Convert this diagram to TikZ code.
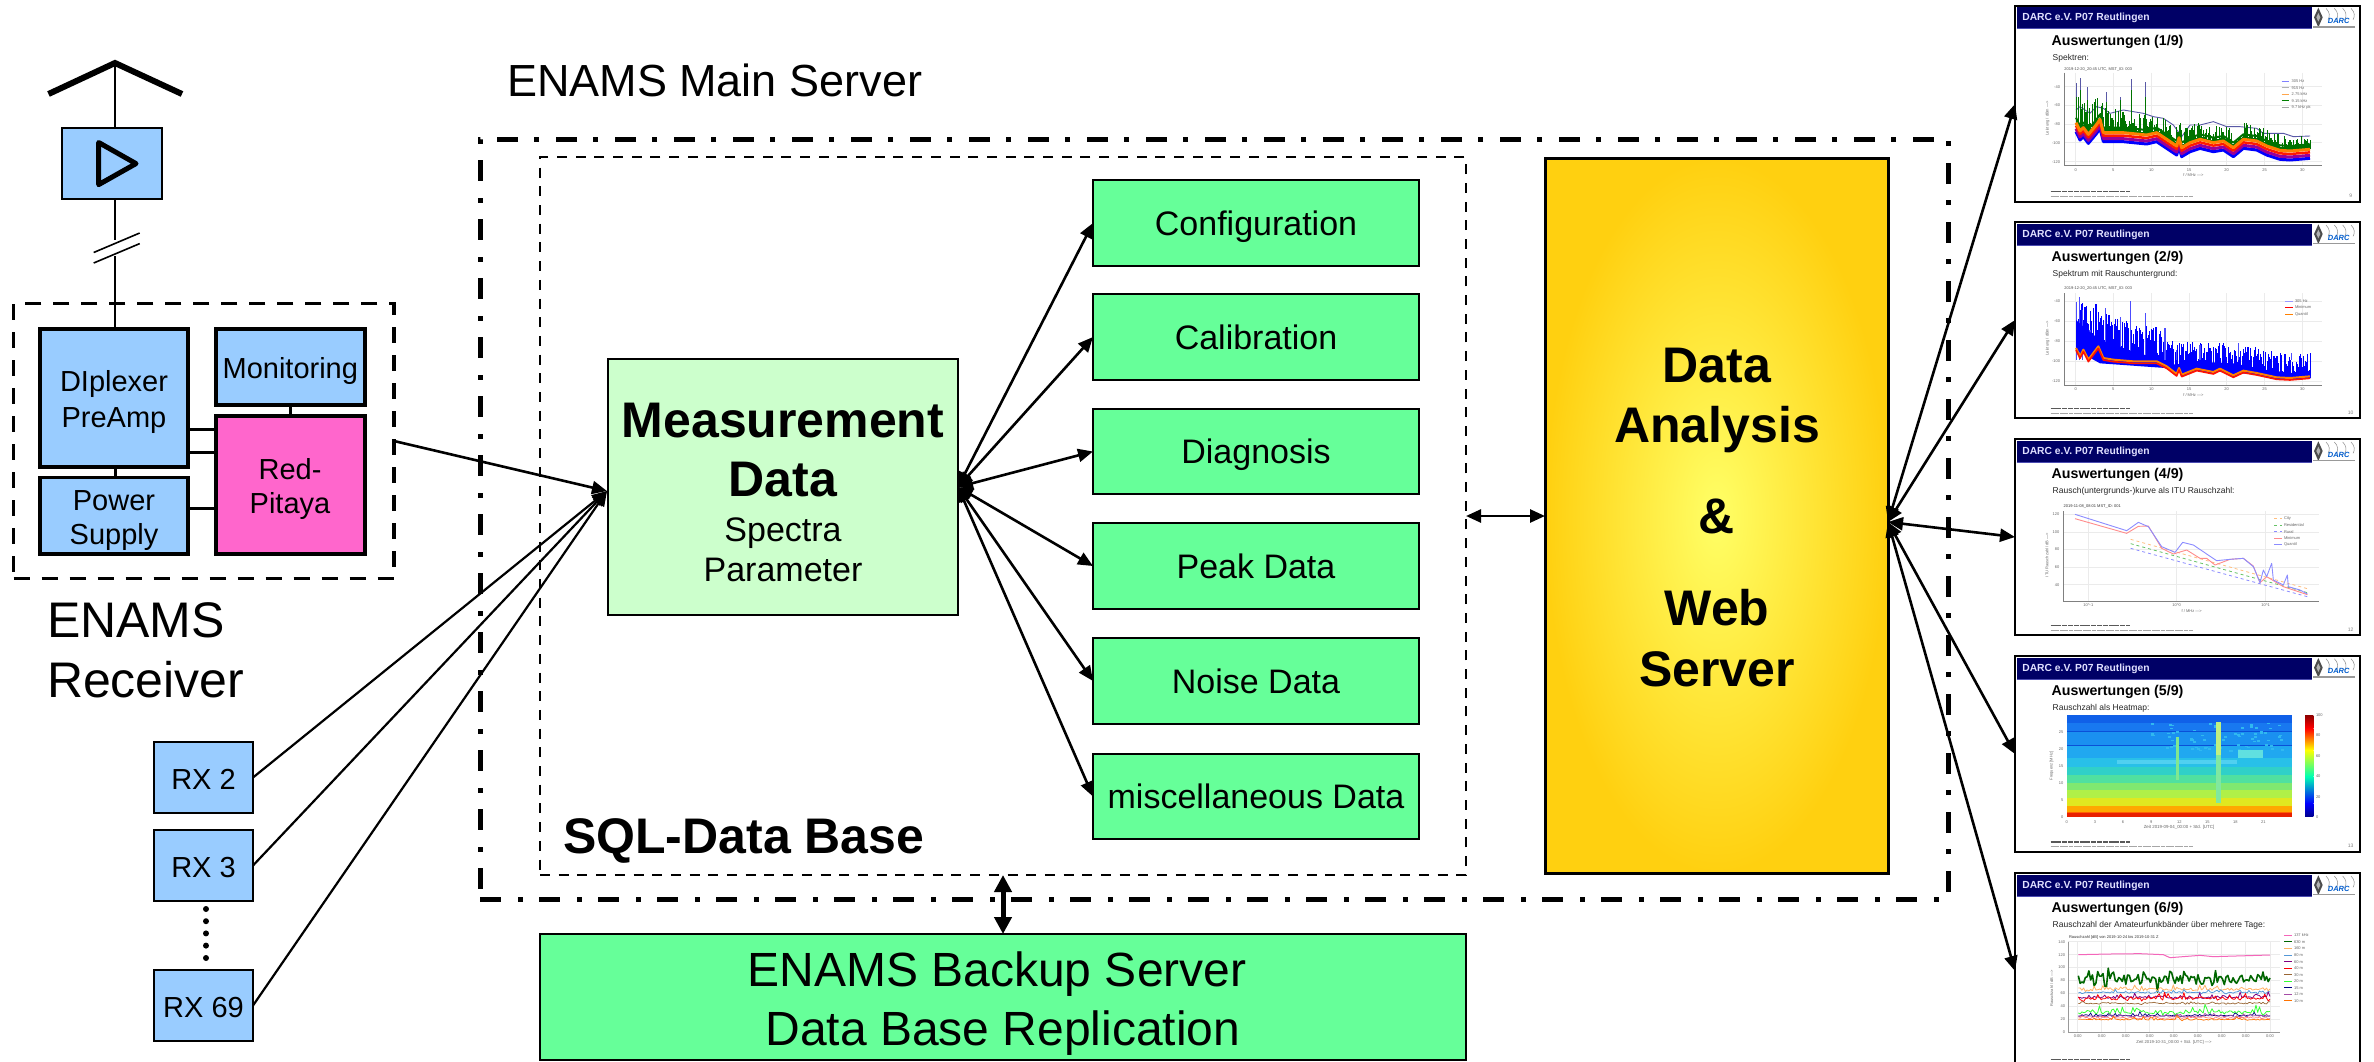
\documentclass[tikz,border=0pt]{standalone}
\usepackage{fontspec}
\setmainfont{Liberation Sans}
\usetikzlibrary{arrows.meta}
\definecolor{rxblue}{HTML}{99CCFF}
\definecolor{pitaya}{HTML}{FF66CC}
\definecolor{paleg}{HTML}{CCFFCC}
\definecolor{midg}{HTML}{66FF99}
\definecolor{navy}{HTML}{000066}
\definecolor{tickc}{HTML}{666666}
\definecolor{gridc}{HTML}{EBEBEB}
\newcommand\fsz[2]{\fontsize{#1}{#2}\selectfont}
\newcommand\bx[7]{%
  \pgfmathsetmacro\cxx{(#2+#4)/2}\pgfmathsetmacro\cyy{(#3+#5)/2}%
  \pgfmathsetmacro\wdd{#4-#2}\pgfmathsetmacro\htt{#5-#3}%
  \node[boxbase,#6,minimum width=\wdd pt,minimum height=\htt pt] (#1) at (\cxx,\cyy) {#7};}
\tikzset{
  boxbase/.style={rectangle,inner sep=0pt,outer sep=0pt,align=center,draw=black},
  rxthick/.style={fill=rxblue,line width=3.8pt,font=\fsz{29}{36},text height=26pt,text depth=2pt},
  rxthin/.style={fill=rxblue,line width=2pt,font=\fsz{29}{36},text height=24pt,text depth=0pt},
  greenbox/.style={fill=midg,line width=2pt,font=\fsz{34}{40},text height=28pt,text depth=4pt},
  lbl/.style={inner sep=0pt,outer sep=0pt,anchor=base},
  lblw/.style={inner sep=0pt,outer sep=0pt,anchor=base west},
  inlbl/.style={lbl,font=\fsz{29}{36}},
  tk/.style={inner sep=0pt,outer sep=0pt,text=tickc,font=\fsz{4}{5}},
  tkw/.style={tk,anchor=west},
  link/.style={line width=3pt},
  fan/.style={line width=2.6pt,{Triangle[length=15pt,width=13pt]}-{Triangle[length=15pt,width=13pt]}},
  single/.style={line width=2.6pt,-{Triangle[length=15pt,width=13pt]}},
  slidebox/.style={rectangle,draw=black,fill=white,line width=2.5pt,inner sep=0pt,outer sep=0pt,minimum width=345pt,minimum height=196pt},
  zoomed/.style={x=0.33333pt,y=-0.33333pt}
}
% common slide furniture, in zoom units
\newcommand\slidefur[4]{%
  \fill[navy] (50,#1+5) rectangle (935,#1+68);
  \draw[color=blue!40!gray,line width=.6pt] (50,#1+69) -- (935,#1+69);
  \node[lblw,text=white!88!blue,font=\bfseries\fsz{10.3}{12}] at (67,#1+45) {DARC e.V. P07 Reutlingen};
  \fill[black!70] (955,#1+6) -- (968,#1+35) -- (955,#1+65) -- (942,#1+35) -- cycle;
  \fill[black!30] (955,#1+22) -- (961,#1+35) -- (955,#1+48) -- (949,#1+35) -- cycle;
  \foreach \sx in {0,25,50,75}{\draw[black!45,line width=.5pt] (978+\sx,#1+8) .. controls (990+\sx,#1+20) and (990+\sx,#1+32) .. (984+\sx,#1+42);}
  \node[lbl,text=blue!55!cyan!80!black,font=\bfseries\itshape\fsz{7.5}{8}] at (1016,#1+53) {DARC};
  \fill[black!40] (938,#1+61) rectangle (1065,#1+66);
  \node[lblw,font=\bfseries\fsz{14.2}{16}] at (155,#1+118) {#2};
  \node[lblw,text=black!85,font=\fsz{8.5}{10}] at (158,#1+163) {#3};
  \draw[black!65,line width=1.5pt,dash pattern=on 5pt off .8pt] (152,#1+558) -- (390,#1+558);
  \draw[black!35,line width=.9pt,dash pattern=on 4pt off .6pt] (152,#1+572) -- (578,#1+572);
  \node[lbl,text=black!50,font=\fsz{5}{6}] at (1052,#1+575) {#4};
}
% spiky trace following a polyline of X/Y pairs
\newcommand\spikes[7]{%
  \foreach \X/\Y [remember=\X as \pX (initially #2), remember=\Y as \pY (initially #3)] in #1 {%
    \pgfmathtruncatemacro\nn{max(1,int((\X-\pX)/2.5))}%
    \foreach \i in {1,...,\nn}{%
      \pgfmathsetmacro\xx{\pX+(\X-\pX)*\i/\nn}%
      \pgfmathsetmacro\yy{\pY+(\Y-\pY)*\i/\nn-#5}%
      \pgfmathsetmacro\ll{(#7+(#6-#7)*exp(-(\xx-228)/220))*pow(rnd,1.6)+6}%
      \draw[#4,line width=1.05pt] (\xx,\yy) -- (\xx,\yy-\ll);
    }%
  }%
}
\newcommand\noisy[4]{\draw[#1,line join=round] plot[domain=235:810,samples=110] (\x,{#2+#3*(rnd-.5)*(1+2*pow(rnd,6))-#4*pow(rnd,8)});}
\begin{document}
\begin{tikzpicture}[x=1pt,y=-1pt]
\pgfmathsetseed{4711}
\useasboundingbox (0,0) rectangle (2374,1061);
\fill[white] (0,0) rectangle (2374,1061);

%%%% antenna & receiver
\coordinate (anttop) at (115,63);
\coordinate (antl) at (48.5,94);
\coordinate (antr) at (182,94);
\coordinate (brk1) at (115,240);
\coordinate (brk2) at (115,256);
\draw[line width=6pt] (antl) -- (anttop) -- (antr);
\bx{lna}{62}{127.5}{161.5}{199}{fill=rxblue,line width=2pt}{}
\draw[line width=2.5pt] (anttop) -- (lna.north -| anttop);
\draw[line width=5pt,line join=round] (98.7,142.5) -- (136,163.6) -- (98.7,184.6) -- cycle;
\draw[line width=2.5pt] (lna.south -| anttop) -- (brk1);
\draw[line width=1.6pt] (93.7,252.5) -- (139.7,233);
\draw[line width=1.6pt] (93.7,263) -- (139.7,243.6);

\bx{rcv}{13.7}{303.6}{394}{578.6}{line width=3.5pt,dash pattern=on 16pt off 12pt}{}
\bx{dip}{40}{328.6}{188}{467}{rxthick}{}
\bx{mon}{215.6}{328.6}{365}{405}{rxthick}{Monitoring}
\bx{red}{215.6}{416}{365}{554}{rxthick,fill=pitaya}{}
\bx{psu}{40}{477.5}{188}{554}{rxthick}{}
\node[inlbl] (dip1) at (114,391) {DIplexer};
\node[inlbl] (dip2) at (114,427.5) {PreAmp};
\node[inlbl] (red1) at (290,479) {Red-};
\node[inlbl] (red2) at (290,513) {Pitaya};
\node[inlbl] (psu1) at (114,510) {Power};
\node[inlbl] (psu2) at (114,544) {Supply};
\draw[line width=2.5pt] (brk2) -- (dip.north -| brk2);
\draw[link] (dip.south -| brk2) -- (psu.north -| brk2);
\draw[link] (mon.south) -- (red.north);
\coordinate (l1) at (188,429); \coordinate (l2) at (188,452.5);
\draw[link] (l1) -- (l1 -| red.west);
\draw[link] (l2) -- (l2 -| red.west);
\coordinate (l3) at (188,508.6);
\draw[link] (l3) -- (l3 -| red.west);
\node[lblw,font=\fsz{50}{60}] (rcvlbl1) at (47,637) {ENAMS};
\node[lblw,font=\fsz{50}{60}] (rcvlbl2) at (47,697) {Receiver};

%%%% RX boxes
\bx{rx2}{154}{742}{253}{813}{rxthin}{RX 2}
\bx{rx3}{154}{830}{253}{901}{rxthin}{RX 3}
\bx{rx69}{154}{970}{253}{1041}{rxthin}{RX 69}
\foreach \dy in {909,921.2,933.4,945.6,958}{\fill (206,\dy) circle (3pt);}

%%%% main server
\node[lblw,font=\fsz{45}{54}] (mainlbl) at (507,96) {ENAMS Main Server};
\bx{main}{480}{139}{1948}{899}{line width=5pt,dash pattern=on 21pt off 17pt on 5pt off 16pt}{}
\bx{sql}{540}{157}{1466}{875}{line width=2.6pt,dash pattern=on 10pt off 8.7pt}{}
\node[lblw,font=\bfseries\fsz{50}{60}] (sqllbl) at (563,853) {SQL-Data Base};

\bx{meas}{608}{359}{958}{615}{fill=paleg,line width=2.5pt}{}
\node[lbl,font=\bfseries\fsz{50}{60}] (m1) at (783,437) {Measurement};
\node[lbl,font=\bfseries\fsz{50}{60}] (m2) at (783,496) {Data};
\node[lbl,font=\fsz{34}{40}] (m3) at (783,541) {Spectra};
\node[lbl,font=\fsz{34}{40}] (m4) at (783,581) {Parameter};

\bx{cfg}{1093}{180}{1419}{266}{greenbox}{Configuration}
\bx{cal}{1093}{294}{1419}{380}{greenbox}{Calibration}
\bx{dia}{1093}{409}{1419}{494}{greenbox}{Diagnosis}
\bx{peak}{1093}{523}{1419}{609}{greenbox}{Peak Data}
\bx{noi}{1093}{638}{1419}{724}{greenbox}{Noise Data}
\bx{mis}{1093}{754}{1419}{839}{greenbox}{miscellaneous Data}

\bx{web}{1545}{158}{1888}{873}{inner color={rgb,255:red,255;green,255;blue,102},outer color={rgb,255:red,255;green,208;blue,16},line width=3pt}{}
\node[lbl,font=\bfseries\fsz{50}{60}] (w1) at (1717,382) {Data};
\node[lbl,font=\bfseries\fsz{50}{60}] (w2) at (1717,442) {Analysis};
\node[lbl,font=\bfseries\fsz{50}{60}] (w3) at (1717,533) {\&};
\node[lbl,font=\bfseries\fsz{50}{60}] (w4) at (1717,625) {Web};
\node[lbl,font=\bfseries\fsz{50}{60}] (w5) at (1717,686) {Server};

\bx{bak}{540}{934}{1466}{1060}{fill=midg,line width=2.5pt}{}
\node[lbl,font=\fsz{48}{58}] (b1) at (997,986) {ENAMS Backup Server};
\node[lbl,font=\fsz{48}{58}] (b2) at (1003,1045) {Data Base Replication};

%%%% slides
\node[slidebox] (s1) at (2187.5,104) {};
\node[slidebox] (s2) at (2187.5,320) {};
\node[slidebox] (s3) at (2187.5,537) {};
\node[slidebox] (s4) at (2187.5,754) {};
\node[slidebox] (s5) at (2187.5,971) {};

% ---- slide 1 & 2 (zoom frame origin 2000,0)
\begin{scope}[shift={(2000pt,0pt)},zoomed]
\slidefur{17}{Auswertungen (1/9)}{Spektren:}{9}
\def\specA{228/395,240/420,250/410,265/430,290/400,300/385,310/425,340/425,370/425,400/428,440/432,470/425,500/445,530/465,537/440,545/470,570/455,600/445,640/455,670/450,700/470,730/445,770/450,800/465,840/478,870/480,930/475}
\def\specAp{(228,395) -- (240,420) -- (250,410) -- (265,430) -- (290,400) -- (300,385) -- (310,425) -- (340,425) -- (370,425) -- (400,428) -- (440,432) -- (470,425) -- (500,445) -- (530,465) -- (537,440) -- (545,470) -- (570,455) -- (600,445) -- (640,455) -- (670,450) -- (700,470) -- (730,445) -- (770,450) -- (800,465) -- (840,478) -- (870,480) -- (930,475)}
\foreach \t in {260,316,372,428,485}{\draw[gridc,line width=.4pt] (192,\t) -- (965,\t);}
\foreach \t in {227,340,454,567,680,794,907}{\draw[gridc,line width=.4pt] (\t,218) -- (\t,497);}
\draw[black!50,line width=.5pt] (192,218) -- (192,497) -- (965,497);
\foreach \t/\l in {260/-40,316/-60,372/-80,428/-100,485/-120}{\node[tk,anchor=east] at (180,\t) {\l};}
\foreach \t/\l in {227/0,340/5,454/10,567/15,680/20,794/25,907/30}{\node[tk] at (\t,509) {\l};}
\node[tk] at (580,526) {f / MHz --->};
\node[tk,rotate=90] at (143,355) {Leistung / dBm --->};
\node[tk,anchor=west,text=black!70] at (193,208) {2019-12-20\_20:45 UTC, MST\_ID: 003};
\draw[color=gray!70!blue,line width=.9pt] (228,330)--(240,320)--(270,340)--(290,320)--(310,325)--(330,340)--(370,330)--(400,335)--(430,340)--(460,350)--(490,355)--(520,375)--(545,410)--(570,375)--(600,375)--(640,365)--(680,380)--(720,380)--(770,385)--(790,400)--(850,400)--(880,410)--(930,408);
\foreach \a/\b in {230/250,240/235,262/262,318/275,362/290,393/237,437/245}{\draw[color=gray!70!blue,line width=.8pt] (\a,350) -- (\a,\b);}
\spikes{\specA}{228}{395}{green!45!black}{28}{90}{38}
\foreach \a/\b in {230/290,240/270,262/300,318/305,362/300,393/270,437/290,540/370}{\draw[green!45!black,line width=1pt] (\a,400) -- (\a,\b);}
\draw[green!45!black,line width=2pt,yshift=14pt,line join=round] \specAp;
\draw[color=blue,line width=3pt,line join=round] \specAp;
\draw[color=violet!80!magenta,line width=3pt,yshift=3pt,line join=round] \specAp;
\draw[color=red!80!orange,line width=2.5pt,yshift=6pt,line join=round] \specAp;
\draw[color=orange,line width=3pt,yshift=9pt,line join=round] \specAp;
\foreach \y/\c/\l in {244/blue!50/305 Hz,263/gray!60/915 Hz,283/orange!70/2.75 kHz,302/green!50!black/9.15 kHz,322/gray!70/9.7 kHz pk}{\draw[color=\c,line width=.7pt] (845,\y) -- (866,\y); \node[tkw] at (875,\y) {\l};}

\slidefur{667}{Auswertungen (2/9)}{Spektrum mit Rauschuntergrund:}{10}
\def\specB{228/1050,240/1075,250/1055,265/1085,295/1045,310/1080,340/1085,400/1090,470/1090,500/1105,530/1128,537/1110,545/1130,590/1112,640/1122,660/1112,700/1132,730/1118,770/1125,830/1138,870/1140,930/1135}
\def\specBp{(228,1050) -- (240,1075) -- (250,1055) -- (265,1085) -- (295,1045) -- (310,1080) -- (340,1085) -- (400,1090) -- (470,1090) -- (500,1105) -- (530,1128) -- (537,1110) -- (545,1130) -- (590,1112) -- (640,1122) -- (660,1112) -- (700,1132) -- (730,1118) -- (770,1125) -- (830,1138) -- (870,1140) -- (930,1135)}
\foreach \t in {903,963,1023,1083,1143}{\draw[gridc,line width=.4pt] (192,\t) -- (965,\t);}
\foreach \t in {227,340,454,567,680,794,907}{\draw[gridc,line width=.4pt] (\t,880) -- (\t,1156);}
\draw[black!50,line width=.5pt] (192,880) -- (192,1156) -- (965,1156);
\foreach \t/\l in {903/-40,963/-60,1023/-80,1083/-100,1143/-120}{\node[tk,anchor=east] at (180,\t) {\l};}
\foreach \t/\l in {227/0,340/5,454/10,567/15,680/20,794/25,907/30}{\node[tk] at (\t,1168) {\l};}
\node[tk] at (580,1184) {f / MHz --->};
\node[tk,rotate=90] at (143,1015) {Leistung / dBm --->};
\node[tk,anchor=west,text=black!70] at (193,866) {2019-12-20\_20:45 UTC, MST\_ID: 003};
\spikes{\specB}{228}{1050}{blue}{0}{170}{70}
\spikes{\specB}{228}{1050}{blue}{0}{170}{70}
\spikes{\specB}{228}{1050}{blue}{0}{170}{70}
\foreach \a/\b in {230/905,238/890,248/930,270/990,316/925,362/950,392/903,437/940,495/985,530/1050,600/1035,715/1030,875/1060}{\draw[color=blue!70,line width=1.2pt] (\a,1080) -- (\a,\b);}
\fill[blue] (228,1050) -- (228,960) -- (250,980) -- (300,1020) -- (400,1055) -- (470,1075) -- (500,1095) -- (560,1090) -- (600,1085) -- (700,1090) -- (800,1110) -- (930,1125) -- (930,1135) -- (300,1090) -- cycle;
\draw[color=orange,line width=2pt,yshift=2pt,line join=round] \specBp;
\draw[color=red!85!orange,line width=1.6pt,line join=round] \specBp;
\foreach \y/\c/\l in {903/blue!40/305 Hz,922/red/Minimum,942/orange/Quantil}{\draw[color=\c,line width=.8pt] (855,\y) -- (878,\y); \node[tkw] at (885,\y) {\l};}
\end{scope}

% ---- slide 3 & 4 (zoom frame origin 2000,430)
\begin{scope}[shift={(2000pt,-430pt)},zoomed]
\slidefur{28}{Auswertungen (4/9)}{Rausch(untergrunds-)kurve als ITU Rauschzahl:}{12}
\foreach \t in {253,306,358,411,464}{\draw[gridc,line width=.4pt] (190,\t) -- (958,\t);}
\foreach \t in {265,530,797}{\draw[gridc,line width=.4pt] (\t,243) -- (\t,513);}
\draw[black!50,line width=.5pt] (190,243) -- (190,513) -- (958,513);
\foreach \t/\l in {253/120,306/100,358/80,411/60,464/40}{\node[tk,anchor=east] at (178,\t) {\l};}
\node[tk] at (265,526) {10\^{}-1};\node[tk] at (530,526) {10\^{}0};\node[tk] at (797,526) {10\^{}1};
\node[tk] at (575,542) {f / MHz --->};
\node[tk,rotate=90] at (141,375) {ITU Rauschzahl / dB --->};
\node[tk,anchor=west,text=black!80] at (191,229) {2019-11-08\_08:01 MST\_ID: 001};
\draw[orange!50,dashed,line width=.8pt] (392,328) -- (922,476);
\draw[green!60!black!60,dashed,line width=.8pt] (392,341) -- (922,488);
\draw[blue!45,dashed,line width=.8pt] (392,355) -- (922,500);
\draw[red!45,line width=.9pt,line join=round] (225,266)--(380,310)--(415,289)--(445,288)--(485,355)--(520,372)--(560,360)--(600,385)--(620,385)--(645,405)--(690,388)--(730,385)--(760,408)--(780,458)--(800,440)--(850,470)--(922,494);
\draw[blue!45,line width=.9pt,line join=round] (225,253)--(380,302)--(415,277)--(445,290)--(485,350)--(525,367)--(548,337)--(580,345)--(620,372)--(650,392)--(690,388)--(730,385)--(760,410)--(780,458)--(790,420)--(800,440)--(815,400)--(820,450)--(850,465)--(862,435)--(865,470)--(900,480)--(922,492);
\foreach \y/\c/\l in {265/orange!50/City,285/green!60!black!60/Residential,305/blue!45/Rural}{\draw[color=\c,dashed,line width=.7pt] (822,\y) -- (845,\y); \node[tkw] at (852,\y) {\l};}
\foreach \y/\c/\l in {325/red!45/Minimum,344/blue!45/Quantil}{\draw[color=\c,line width=.7pt] (822,\y) -- (845,\y); \node[tkw] at (852,\y) {\l};}

\slidefur{678}{Auswertungen (5/9)}{Rauschzahl als Heatmap:}{13}
\definecolor{hb}{HTML}{50D0F0}\definecolor{hp}{HTML}{60E0E0}\definecolor{hs}{HTML}{30B8F0}
\definecolor{hst}{HTML}{C0F080}\definecolor{hsu}{HTML}{80E8A0}\definecolor{hsv}{HTML}{80E890}
\definecolor{hd}{HTML}{0A50D8}
\foreach \a/\b/\c in {855/880/1060E8,880/905/1878F0,905/945/1A90F0,945/985/20A8F0,985/1010/28C0E8,1010/1035/30D0C8,1035/1060/50E0A0,1060/1080/80E870,1080/1105/B0F048,1105/1127/E0E820,1127/1145/FFA800,1145/1150/FF6000,1150/1160/E82000}{\definecolor{hc}{HTML}{\c}\fill[hc] (200,\a) rectangle (875,\b);}
\fill[hd] (200,904) rectangle (875,906);
\fill[hd] (200,944) rectangle (875,946);
\fill[hb] (350,990) rectangle (710,1002);
\fill[hp] (715,960) rectangle (790,985);
\foreach \n in {1,...,70}{\pgfmathsetmacro\ax{450+rnd*415}\pgfmathsetmacro\ay{878+rnd*85}\fill[hs] (\ax,\ay) rectangle +(9,5);}
\fill[hsv] (529,920) rectangle (537,1050);
\fill[hst] (649,875) rectangle (664,975);
\fill[hsu] (649,975) rectangle (664,1120);
\foreach \a/\l in {200/0,285/3,369/6,454/9,538/12,622/15,706/18,790/21}{\node[tk] at (\a,1175) {\l};}
\foreach \a/\l in {905/25,957/20,1008/15,1058/10,1110/5,1160/0}{\node[tk,anchor=east] at (190,\a) {\l};}
\node[tk,font=\fsz{4.4}{5}] at (537,1191) {Zeit 2019-09-04\_00:00 + Std. [UTC]};
\node[tk,rotate=90] at (155,1008) {Frequenz [MHz]};
\shade[top color=red!55!black,bottom color=red] (915,855) rectangle (940,895);
\shade[top color=red,bottom color=yellow] (915,895) rectangle (940,960);
\shade[top color=yellow,bottom color=cyan!70!green] (915,960) rectangle (940,1040);
\shade[top color=cyan!70!green,bottom color=blue] (915,1040) rectangle (940,1120);
\shade[top color=blue,bottom color=blue!55!black] (915,1120) rectangle (940,1160);
\foreach \a/\l in {855/100,916/80,977/60,1039/40,1100/20,1160/0}{\node[tkw] at (948,\a) {\l};}
\end{scope}

% ---- slide 5 (zoom frame origin 2000,640)
\begin{scope}[shift={(2000pt,-640pt)},zoomed]
\slidefur{700}{Auswertungen (6/9)}{Rauschzahl der Amateurfunkbänder über mehrere Tage:}{}
\foreach \t in {905,944,982,1021,1060,1098,1137}{\draw[gridc,line width=.4pt] (205,\t) -- (840,\t);}
\foreach \t in {233,305,377,449,521,593,665,737,810}{\draw[gridc,line width=.4pt] (\t,905) -- (\t,1176);}
\draw[black!40,line width=.5pt] (205,905) -- (205,1176) -- (840,1176);
\foreach \t/\l in {905/140,944/120,982/100,1021/80,1060/60,1098/40,1137/20,1176/0}{\node[tk,anchor=east] at (195,\t) {\l};}
\foreach \t in {233,305,377,449,521,593,665,737,810}{\node[tk] at (\t,1189) {0:00};}
\node[tk,font=\fsz{4.2}{5}] at (522,1206) {Zeit 2019-10-31\_00:00 + Std. [UTC] --->};
\node[tk,rotate=90] at (155,1045) {Rauschzahl / dB --->};
\node[tk,anchor=west,text=black!80] at (207,893) {Rauschzahl [dB] von 2019-10-24 bis 2019-10-31 Z};
\draw[magenta!60,line width=1pt] (235,944)--(330,942)--(420,941)--(490,944)--(510,953)--(600,946)--(640,950)--(810,945);
\noisy{green!40!black,line width=1.6pt}{1018}{28}{22}
\noisy{orange!60,line width=.8pt}{1048}{8}{12}
\noisy{cyan!60!blue!70,line width=.8pt}{1058}{4}{10}
\noisy{violet,line width=.8pt}{1072}{6}{18}
\noisy{red,line width=.8pt}{1076}{8}{14}
\noisy{brown!80!black,line width=.7pt}{1090}{4}{4}
\noisy{green!80,line width=.8pt}{1118}{8}{26}
\noisy{blue!50!black,line width=.7pt}{1127}{3}{12}
\noisy{violet!70,line width=.7pt}{1129}{3}{8}
\noisy{red!50,line width=.7pt}{1134}{4}{6}
\noisy{orange!90!red,line width=.7pt}{1139}{3}{14}
\foreach \y/\c/\l in {886/magenta!60/137 kHz,905/green!40!black/630 m,925/orange!60/160 m,945/cyan!60!blue!70/80 m,965/violet/60 m,984/red/40 m,1004/brown!80!black/30 m,1024/green!80/20 m,1043/blue!50!black/15 m,1063/violet!70/12 m,1082/orange!90!red/10 m}{\draw[color=\c,line width=.7pt] (852,\y) -- (875,\y); \node[tkw] at (882,\y) {\l};}
\end{scope}
% slide frames drawn again over their content
\foreach \s in {s1,s2,s3,s4,s5}{\draw[line width=2.5pt] (\s.south west) rectangle (\s.north east);}

%%%% connectors
\coordinate (inhub) at (607,491);
\coordinate (outhub) at (958,487);
\coordinate (webhub) at (1888,522);
\draw[single] (rcv.east |- 0,441) -- (inhub);
\draw[single,line width=2.2pt] (rx2.east) -- (inhub);
\draw[single,line width=2.2pt] (rx3.east) -- (inhub);
\draw[single,line width=2.2pt] (rx69.east) -- (inhub);
\foreach \t in {cfg,cal,dia,peak,noi,mis}{\draw[fan] (outhub) -- (\t.west);}
\foreach \t in {s1,s2,s3,s4,s5}{\draw[fan] (webhub) -- (\t.west);}
\draw[fan] (sql.east |- 0,516) -- (web.west |- 0,516);
\draw[line width=5pt,{Triangle[length=17pt,width=17pt]}-{Triangle[length=17pt,width=17pt]}] (sql.south -| 1003,0) -- (bak.north -| 1003,0);
\end{tikzpicture}
\end{document}
